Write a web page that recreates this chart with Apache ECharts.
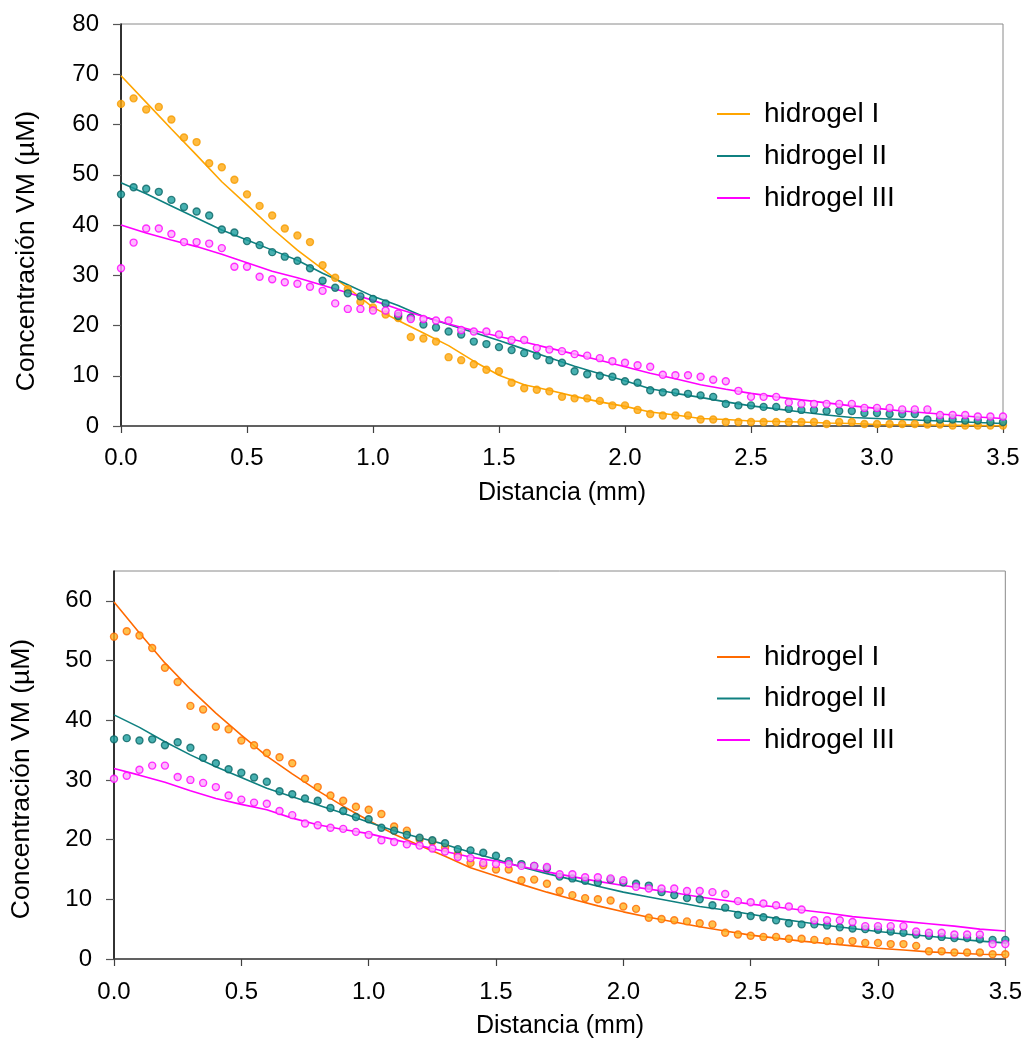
<!DOCTYPE html>
<html><head><meta charset="utf-8">
<script src="https://cdn.jsdelivr.net/npm/echarts@6/dist/echarts.min.js"></script>
<style>
html,body{margin:0;padding:0;background:#fff;}
#c1,#c2{position:absolute;left:0;width:1025px;height:520px;}
#c1{top:0}#c2{top:520px}
</style>
</head><body><div id="c1"></div><div id="c2"></div>
<script>
// measured sample positions (mm)
const distance = [0,0.05,0.1,0.15,0.2,0.25,0.3,0.35,0.4,0.45,
 0.5,0.55,0.6,0.65,0.7,0.75,0.8,0.85,0.9,0.95,
 1.0,1.05,1.1,1.15,1.2,1.25,1.3,1.35,1.4,1.45,
 1.5,1.55,1.6,1.65,1.7,1.75,1.8,1.85,1.9,1.95,
 2.0,2.05,2.1,2.15,2.2,2.25,2.3,2.35,2.4,2.45,
 2.5,2.55,2.6,2.65,2.7,2.75,2.8,2.85,2.9,2.95,
 3.0,3.05,3.1,3.15,3.2,3.25,3.3,3.35,3.4,3.45,
 3.5];
const fitDistance = [0,0.1,0.2,0.3,0.4,0.5,0.6,0.7,0.8,0.9,1.0,1.1,1.2,1.3,1.4,1.5,1.6,1.7,1.8,1.9,
 2.0,2.1,2.2,2.3,2.4,2.5,2.6,2.7,2.8,2.9,3.0,3.1,3.2,3.3,3.4,3.5];
const seriesNames = ['hidrogel I','hidrogel II','hidrogel III'];
const xTitle = 'Distancia (mm)';
const yTitle = 'Concentración VM (µM)';
const topYTicks = [0,10,20,30,40,50,60,70,80];
const bottomYTicks = [0,10,20,30,40,50,60];

// top chart: experimental points
const topDotsI = [64.1,65.2,63.0,63.5,61.0,57.4,56.5,52.3,51.5,49.0,
 46.1,43.8,41.9,39.3,37.9,36.6,32.0,29.5,27.2,24.7,
 23.6,22.2,21.5,17.7,17.4,16.8,13.7,13.1,12.3,11.2,
 10.9,8.6,7.5,7.2,6.9,5.8,5.5,5.5,5.0,4.1,
 4.1,3.2,2.4,2.1,2.1,2.1,1.3,1.3,0.8,0.8,
 0.8,0.8,0.8,0.8,0.8,0.8,0.4,0.8,0.8,0.4,
 0.4,0.4,0.4,0.4,0.3,0.3,0.1,0.1,0.1,0.1,
 0.1];
const topDotsII = [46.1,47.5,47.2,46.6,45.0,43.6,42.7,41.9,39.1,38.5,
 36.8,36.0,34.6,33.7,32.9,31.4,28.9,27.5,26.4,25.8,
 25.3,24.4,21.9,21.6,20.2,19.6,18.8,18.2,16.8,16.3,
 15.7,15.1,14.5,14.0,13.1,12.6,10.9,10.3,10.0,9.8,
 8.9,8.6,7.1,6.7,6.7,6.4,6.1,5.8,4.4,4.1,
 4.1,3.8,3.8,3.4,3.2,3.2,3.0,3.0,3.0,2.6,
 2.6,2.4,2.4,2.4,1.3,1.3,1.3,1.1,1.1,0.8,
 0.8];
const topDotsIII = [31.4,36.5,39.3,39.3,38.2,36.6,36.6,36.3,35.4,31.7,
 31.7,29.7,29.2,28.6,28.3,27.7,26.9,24.4,23.3,23.3,
 23.0,23.0,22.4,21.3,21.3,21.0,21.0,19.1,18.8,18.8,
 18.2,17.1,17.1,15.5,15.2,14.9,14.3,14.0,13.5,12.9,
 12.6,12.1,11.8,10.2,10.1,10.1,9.8,9.2,8.9,7.0,
 5.8,5.8,5.8,4.7,4.4,4.4,4.4,4.4,4.4,3.6,
 3.6,3.6,3.3,3.3,3.3,2.2,2.2,2.2,1.9,1.9,
 1.9];
// top chart: fitted curves
const topFitI = [69.7,64.4,59.1,53.9,48.6,44.0,39.3,35.0,31.2,27.5,23.6,21.0,18.5,16.0,12.9,10.1,8.2,7.1,5.9,4.8,
 3.9,2.8,2.2,1.5,1.3,1.0,0.9,0.8,0.6,0.5,0.3,0.25,0.2,0.15,0.1,0.05];
const topFitII = [48.4,46.2,43.8,41.4,39.0,37.0,35.0,33.0,30.4,28.1,25.8,24.0,21.8,20.2,18.6,17.0,15.3,13.6,11.9,10.4,
 9.0,7.4,6.5,5.7,4.8,4.0,3.4,2.8,2.2,1.7,1.5,1.3,1.1,0.9,0.7,0.5];
const topFitIII = [40.0,38.4,37.0,35.7,34.2,32.5,30.8,29.5,28.0,26.5,25.0,23.3,21.8,20.3,19.0,17.8,16.7,15.5,14.3,13.1,
 11.8,10.5,9.4,8.2,7.3,6.5,5.8,5.2,4.6,4.0,3.5,3.0,2.6,2.2,1.8,1.5];

// bottom chart: experimental points
const botDotsI = [54.0,54.9,54.2,52.1,48.8,46.4,42.4,41.8,38.9,38.5,
 36.6,35.8,34.5,33.8,32.8,30.2,28.8,27.4,26.5,25.5,
 25.0,24.3,22.2,21.5,20.0,19.7,18.7,17.5,16.1,15.7,
 15.0,15.0,13.2,13.3,12.6,11.4,10.7,10.2,10.0,9.8,
 8.8,8.4,6.9,6.7,6.5,6.3,6.0,5.8,4.4,4.1,
 3.9,3.7,3.7,3.4,3.4,3.2,3.0,3.0,3.0,2.7,
 2.7,2.5,2.5,2.2,1.3,1.3,1.1,1.1,1.1,0.8,
 0.8];
const botDotsII = [36.8,37.0,36.6,36.8,35.8,36.3,35.4,33.7,32.8,31.8,
 31.2,30.4,29.7,28.1,27.6,26.9,26.5,25.3,24.8,23.8,
 23.4,22.0,21.5,20.8,20.3,19.9,19.4,18.4,18.2,17.8,
 17.3,16.4,15.9,15.6,15.2,13.8,13.5,13.1,12.8,13.3,
 12.8,12.6,12.3,11.2,10.7,10.2,10.0,9.0,8.6,7.4,
 7.2,7.0,6.5,6.0,5.8,5.8,5.6,5.3,5.1,5.0,
 4.9,4.6,4.4,4.1,3.9,3.7,3.5,3.5,3.3,3.2,
 3.2];
const botDotsIII = [30.2,30.7,31.7,32.4,32.4,30.5,30.0,29.5,28.8,27.4,
 26.7,26.2,26.0,24.8,24.1,22.7,22.4,22.0,21.8,21.3,
 20.8,19.9,19.6,19.2,19.0,18.5,18.0,17.1,16.9,16.1,
 15.9,15.9,15.6,15.6,15.4,14.2,14.2,13.7,13.7,13.5,
 13.2,12.1,11.8,11.8,11.8,11.4,11.4,11.2,10.9,9.7,
 9.5,9.3,9.0,8.8,8.3,6.5,6.5,6.5,6.2,5.5,
 5.5,5.5,5.5,4.6,4.4,4.4,4.1,4.1,4.1,2.5,
 2.5];
// bottom chart: fitted curves
const botFitI = [59.8,54.6,49.6,45.2,41.2,37.5,34.0,31.0,28.2,25.6,23.2,20.9,19.0,17.2,15.3,13.9,12.5,11.2,10.0,8.9,
 7.9,7.0,6.2,5.4,4.7,4.0,3.5,3.0,2.6,2.2,1.8,1.5,1.2,1.0,0.8,0.7];
const botFitII = [40.9,38.8,36.4,34.2,32.2,30.4,28.6,27.2,25.8,24.4,22.9,21.5,20.3,19.2,17.9,16.7,15.4,14.3,13.3,12.2,
 11.2,10.4,9.6,8.8,8.2,7.5,6.8,6.2,5.6,5.1,4.6,4.2,3.8,3.4,3.0,2.7];
const botFitIII = [31.9,30.8,29.6,28.2,26.9,25.9,25.0,23.6,22.5,21.7,21.0,20.0,19.0,18.0,17.1,16.4,15.5,14.6,13.8,13.0,
 12.3,11.7,11.1,10.4,9.8,9.2,8.7,8.2,7.7,7.1,6.7,6.3,5.9,5.5,5.0,4.7];

const FONT = '"Liberation Sans", Arial, sans-serif';
const pair = (xs, ys) => xs.map((x, i) => [x, ys[i]]);

function buildOption(cfg) {
  const lines = cfg.fits.map((f, i) => ({
    name: seriesNames[i], type: 'line', data: pair(fitDistance, f),
    symbol: 'none', showSymbol: false, smooth: false, z: 2,
    lineStyle: { color: cfg.lineColors[i], width: 1.6 },
    itemStyle: { color: cfg.lineColors[i] }
  }));
  const dots = cfg.dots.map((d, i) => ({
    name: seriesNames[i] + ' (exp)', type: 'scatter', data: pair(distance, d),
    symbol: 'circle', symbolSize: 7, z: 3,
    itemStyle: { color: cfg.dotFill[i], borderColor: cfg.dotBorder[i], borderWidth: 1.4 }
  }));
  return {
    animation: false,
    backgroundColor: '#fff',
    grid: { left: cfg.grid.left, right: cfg.grid.right, top: cfg.grid.top, bottom: cfg.grid.bottom,
            show: true, borderColor: '#8a8a8a', borderWidth: 1, containLabel: false },
    xAxis: {
      type: 'value', min: 0, max: 3.5, interval: 0.5,
      axisLine: { show: true, onZero: false, lineStyle: { color: '#404040', width: 1.5 } },
      axisTick: { show: true, inside: false, length: 7, lineStyle: { color: '#404040', width: 1.2 } },
      axisLabel: { margin: cfg.xLabelMargin, color: '#000', fontFamily: FONT, fontSize: 24,
                   formatter: v => v.toFixed(1) },
      splitLine: { show: false }
    },
    yAxis: {
      type: 'value', min: 0, max: cfg.yMax, interval: 10,
      axisLine: { show: true, onZero: false, lineStyle: { color: '#000', width: 1.5 } },
      axisTick: { show: true, inside: false, length: 8, customValues: cfg.yTicks,
                  lineStyle: { color: '#555', width: 1.2 } },
      axisLabel: { margin: 22, color: '#000', fontFamily: FONT, fontSize: 24, customValues: cfg.yTicks },
      splitLine: { show: false }
    },
    legend: {
      data: seriesNames, orient: 'vertical', left: 717, top: cfg.legendTop, padding: 0,
      icon: 'rect', itemWidth: 33, itemHeight: 2, itemGap: cfg.legendGap, selectedMode: false,
      textStyle: { fontFamily: FONT, fontSize: 28, color: '#000', lineHeight: 28, padding: [0, 0, 0, 9] }
    },
    graphic: [
      { type: 'text', x: cfg.yTitlePos[0], y: cfg.yTitlePos[1], rotation: Math.PI / 2,
        style: { text: yTitle, font: '26.5px ' + FONT, fill: '#000', textAlign: 'center', textVerticalAlign: 'middle' } },
      { type: 'text', x: cfg.xTitlePos[0], y: cfg.xTitlePos[1],
        style: { text: xTitle, font: '25px ' + FONT, fill: '#000', textAlign: 'center', textVerticalAlign: 'middle' } }
    ],
    series: lines.concat(dots)
  };
}

const topChart = echarts.init(document.getElementById('c1'), null, { renderer: 'canvas' });
topChart.setOption(buildOption({
  fits: [topFitI, topFitII, topFitIII], dots: [topDotsI, topDotsII, topDotsIII],
  lineColors: ['#FFA500', '#0F8080', '#FF00FF'],
  dotFill: ['#FFAA10', '#1A9D9D', '#FFA6FF'],
  dotBorder: ['#F59B00', '#0B6565', '#FF00FF'],
  grid: { left: 121, right: 22, top: 24, bottom: 94 },
  yMax: 80, yTicks: topYTicks, xLabelMargin: 20,
  legendTop: 100, legendGap: 14,
  yTitlePos: [27, 251], xTitlePos: [562, 493]
}));

const bottomChart = echarts.init(document.getElementById('c2'), null, { renderer: 'canvas' });
bottomChart.setOption(buildOption({
  fits: [botFitI, botFitII, botFitIII], dots: [botDotsI, botDotsII, botDotsIII],
  lineColors: ['#FF6A00', '#0F8080', '#FF00FF'],
  dotFill: ['#FFB020', '#1A9D9D', '#FFA6FF'],
  dotBorder: ['#FF6A00', '#0B6565', '#FF00FF'],
  grid: { left: 114, right: 18, top: 51, bottom: 81 },
  yMax: 65, yTicks: bottomYTicks, xLabelMargin: 21,
  legendTop: 123, legendGap: 13.5,
  yTitlePos: [22, 259], xTitlePos: [560, 506]
}));
</script>
</body></html>
